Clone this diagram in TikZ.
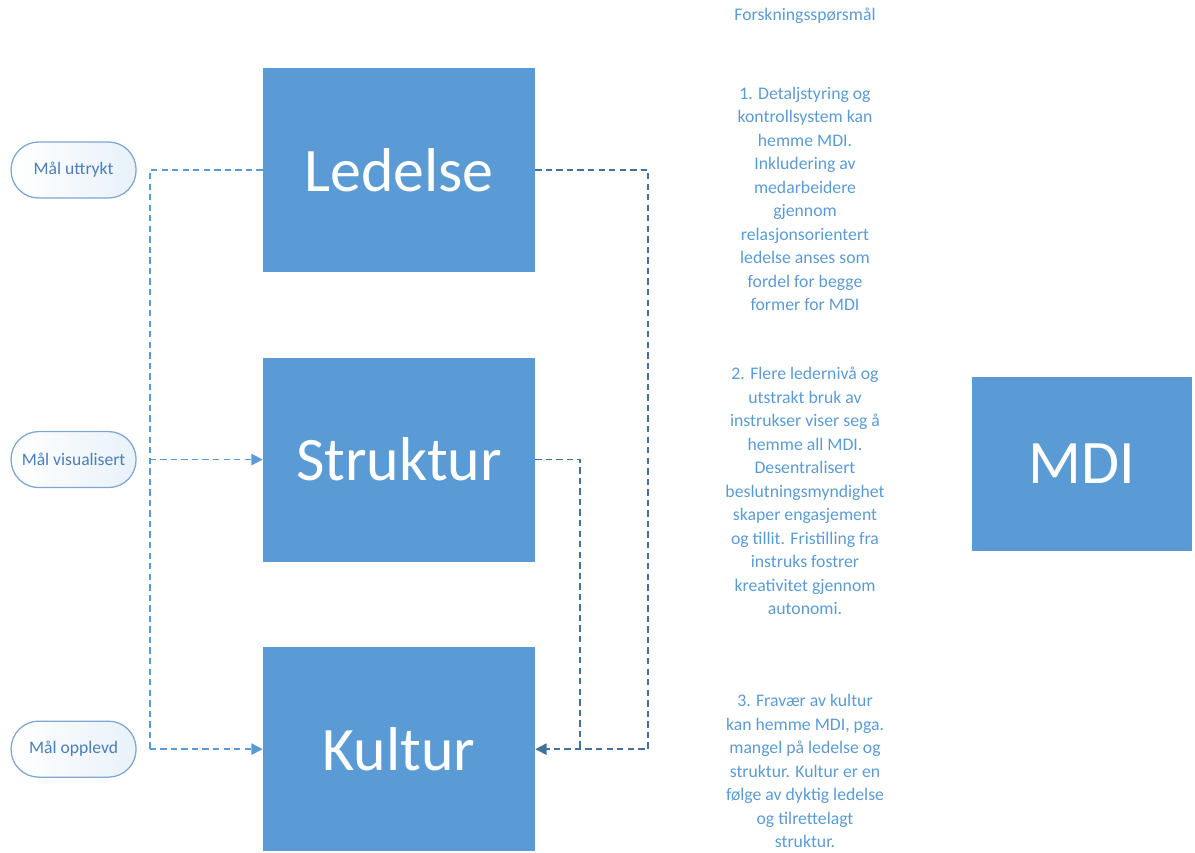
\documentclass[tikz,border=0pt]{standalone}
\usepackage{fontspec}
\setmainfont{Carlito}
\usepackage{tikz}
\usetikzlibrary{positioning, arrows.meta}
\definecolor{mdiblue}{HTML}{5B9BD5}
\definecolor{mdidark}{HTML}{41719C}
\definecolor{mdipill}{HTML}{7EA6D3}
\definecolor{mditext}{HTML}{4A7EBB}

\begin{document}
\begin{tikzpicture}[
  node distance=2.125cm and 3.15cm,
  factor/.style={
    rectangle, fill=mdiblue, text=white,
    minimum width=6.8cm, minimum height=5.1cm,
    font=\fontsize{44}{52}\selectfont
  },
  goal/.style={
    rectangle, rounded corners=0.69cm, draw=mdipill, line width=0.9pt,
    left color=white, right color=mdiblue!14, text=mditext,
    minimum width=3.125cm, minimum height=1.4cm,
    font=\fontsize{12.5}{14}\selectfont
  },
  question/.style={
    font=\fontsize{12.6}{16.7}\selectfont, text=mdiblue, align=center
  },
  lft/.style={dashed, dash pattern=on 4.5pt off 3pt, line width=1.2pt, color=mdiblue},
  rgt/.style={dashed, dash pattern=on 4.5pt off 3pt, line width=1.2pt, color=mdidark},
  arr/.style={-{Triangle[length=8pt,width=8pt]}},
]
\useasboundingbox (0,0) rectangle (29.875,-21.3);

% Faktorer
\node[factor] (ledelse) at (9.975,-4.25) {Ledelse};
\node[factor, below=of ledelse] (struktur) {Struktur};
\node[factor, below=of struktur] (kultur) {Kultur};
\node[factor, minimum width=5.5cm, minimum height=4.35cm] (mdi) at (27.05,-11.6) {MDI};

% Maal
\node[goal, left=of ledelse] (uttrykt) {Mål uttrykt};
\node[goal, left=of struktur] (visualisert) {Mål visualisert};
\node[goal, left=of kultur] (opplevd) {Mål opplevd};

% Forskningsspoersmaal
\node[question] (title) at (20.125,-0.4) {Forskningsspørsmål};
\node[question] (q1) at (20.125,-4.975) {1. Detaljstyring og\\kontrollsystem kan\\hemme MDI.\\Inkludering av\\medarbeidere\\gjennom\\relasjonsorientert\\ledelse anses som\\fordel for begge\\former for MDI};
\node[question] (q2) at (20.125,-12.275) {2. Flere ledernivå og\\utstrakt bruk av\\instrukser viser seg å\\hemme all MDI.\\Desentralisert\\beslutningsmyndighet\\skaper engasjement\\og tillit. Fristilling fra\\instruks fostrer\\kreativitet gjennom\\autonomi.};
\node[question] (q3) at (20.125,-19.275) {3. Fravær av kultur\\kan hemme MDI, pga.\\mangel på ledelse og\\struktur. Kultur er en\\følge av dyktig ledelse\\og tilrettelagt\\struktur.};

% Hjelpepunkter
\coordinate[right=0.325cm of uttrykt.east] (lbus);
\coordinate[right=2.825cm of ledelse.east] (rbus);
\coordinate[right=1.125cm of struktur.east] (sbus);

% Piler
\draw[lft] (ledelse.west) -- (lbus) -- (lbus |- kultur.west);
\draw[lft, arr] (lbus |- struktur.west) -- (struktur.west);
\draw[lft, arr] (lbus |- kultur.west) -- (kultur.west);
\draw[rgt, arr] (ledelse.east) -- (rbus) |- (kultur.east);
\draw[rgt] (struktur.east) -- (sbus) -- (sbus |- kultur.east);

\end{tikzpicture}
\end{document}
